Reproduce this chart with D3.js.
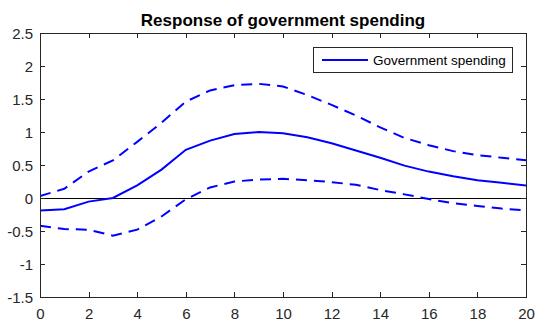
<!DOCTYPE html>
<html>
<head>
<meta charset="utf-8">
<script src="https://cdn.jsdelivr.net/npm/d3@7/dist/d3.min.js"></script>
<style>
  html, body { margin: 0; padding: 0; background: #fff; }
  svg { display: block; font-family: "Liberation Sans", Arial, Helvetica, sans-serif; }
</style>
</head>
<body>
<svg id="chart" width="537" height="322"></svg>
<script>
// Impulse-response horizon (periods)
const horizon = d3.range(0, 21);

// Point estimate of the response
const response = [-0.19, -0.17, -0.055, 0.0, 0.19, 0.43, 0.73, 0.87, 0.97, 1.0, 0.98,
                  0.92, 0.83, 0.72, 0.61, 0.49, 0.40, 0.33, 0.27, 0.23, 0.19];

// Upper and lower confidence bands
const upperBand = [0.03, 0.14, 0.40, 0.57, 0.85, 1.14, 1.46, 1.63, 1.71, 1.73, 1.69,
                   1.56, 1.41, 1.25, 1.07, 0.91, 0.80, 0.71, 0.65, 0.61, 0.57];
const lowerBand = [-0.42, -0.47, -0.48, -0.57, -0.48, -0.28, -0.02, 0.16, 0.25, 0.28, 0.29,
                   0.27, 0.24, 0.20, 0.12, 0.055, -0.015, -0.08, -0.12, -0.16, -0.19];

// Axis ticks
const xTicks = [0, 2, 4, 6, 8, 10, 12, 14, 16, 18, 20];
const yTicks = [-1.5, -1, -0.5, 0, 0.5, 1, 1.5, 2, 2.5];

const titleText = "Response of government spending";
const legendLabel = "Government spending";

const svg = d3.select("#chart");
const plotLeft = 40, plotRight = 526, plotTop = 33, plotBottom = 297;
const axisColor = "#262626";

const x = d3.scaleLinear().domain([0, 20]).range([plotLeft, plotRight]);
const y = d3.scaleLinear().domain([-1.5, 2.5]).range([plotBottom, plotTop]);

const fmt = d => String(d);
const tickLen = 5;

// Data lines (clipped to plot box)
svg.append("defs").append("clipPath").attr("id", "plotclip")
  .append("rect").attr("x", plotLeft).attr("y", plotTop)
  .attr("width", plotRight - plotLeft).attr("height", plotBottom - plotTop);

const plot = svg.append("g").attr("clip-path", "url(#plotclip)");

const line = d3.line().x((d, i) => x(horizon[i])).y(d => y(d));

// Zero reference line
plot.append("path")
  .datum([0, 0])
  .attr("d", d3.line().x((d, i) => x(i === 0 ? 0 : 20)).y(d => y(d)))
  .attr("fill", "none").attr("stroke", "#000").attr("stroke-width", 1)
  .attr("shape-rendering", "crispEdges");

plot.append("path").datum(upperBand).attr("d", line)
  .attr("fill", "none").attr("stroke", "#0000ff").attr("stroke-width", 2)
  .attr("stroke-dasharray", "11,7");
plot.append("path").datum(lowerBand).attr("d", line)
  .attr("fill", "none").attr("stroke", "#0000ff").attr("stroke-width", 2)
  .attr("stroke-dasharray", "11,7");
plot.append("path").datum(response).attr("d", line)
  .attr("fill", "none").attr("stroke", "#0000ff").attr("stroke-width", 2);

// Axes (box style with inward ticks)
const gx = svg.append("g").attr("transform", `translate(0,${plotBottom})`)
  .call(d3.axisBottom(x).tickValues(xTicks).tickFormat(fmt).tickSizeInner(-tickLen).tickSizeOuter(0).tickPadding(11));
const gxTop = svg.append("g").attr("transform", `translate(0,${plotTop})`)
  .call(d3.axisTop(x).tickValues(xTicks).tickFormat("").tickSizeInner(-tickLen).tickSizeOuter(0));
const gy = svg.append("g").attr("transform", `translate(${plotLeft},0)`)
  .call(d3.axisLeft(y).tickValues(yTicks).tickFormat(fmt).tickSizeInner(-tickLen).tickSizeOuter(0).tickPadding(7));
const gyRight = svg.append("g").attr("transform", `translate(${plotRight},0)`)
  .call(d3.axisRight(y).tickValues(yTicks).tickFormat("").tickSizeInner(-tickLen).tickSizeOuter(0));

[gx, gxTop, gy, gyRight].forEach(g => {
  g.select(".domain").attr("stroke", axisColor).attr("stroke-width", 1)
    .attr("shape-rendering", "crispEdges");
  g.selectAll(".tick line").attr("stroke", axisColor).attr("stroke-width", 1)
    .attr("shape-rendering", "crispEdges");
  g.selectAll(".tick text").attr("fill", axisColor)
    .style("font-family", "'Liberation Sans', Arial, sans-serif").style("font-size", "15px");
});
gy.selectAll(".tick text").attr("dy", "0.36em");

// Title
svg.append("text")
  .attr("x", (plotLeft + plotRight) / 2).attr("y", 25.5)
  .attr("text-anchor", "middle")
  .style("font-size", "17px").style("font-weight", "bold").attr("fill", "#000")
  .text(titleText);

// Legend
const lg = svg.append("g");
lg.append("rect").attr("x", 313.5).attr("y", 47.5).attr("width", 199).attr("height", 25)
  .attr("fill", "#fff").attr("stroke", axisColor).attr("stroke-width", 1)
  .attr("shape-rendering", "crispEdges");
lg.append("line").attr("x1", 322).attr("x2", 368).attr("y1", 60).attr("y2", 60)
  .attr("stroke", "#0000ff").attr("stroke-width", 2);
lg.append("text").attr("x", 373).attr("y", 60).attr("dy", "0.4em")
  .style("font-size", "13.5px").attr("fill", "#000")
  .text(legendLabel);
</script>
</body>
</html>
